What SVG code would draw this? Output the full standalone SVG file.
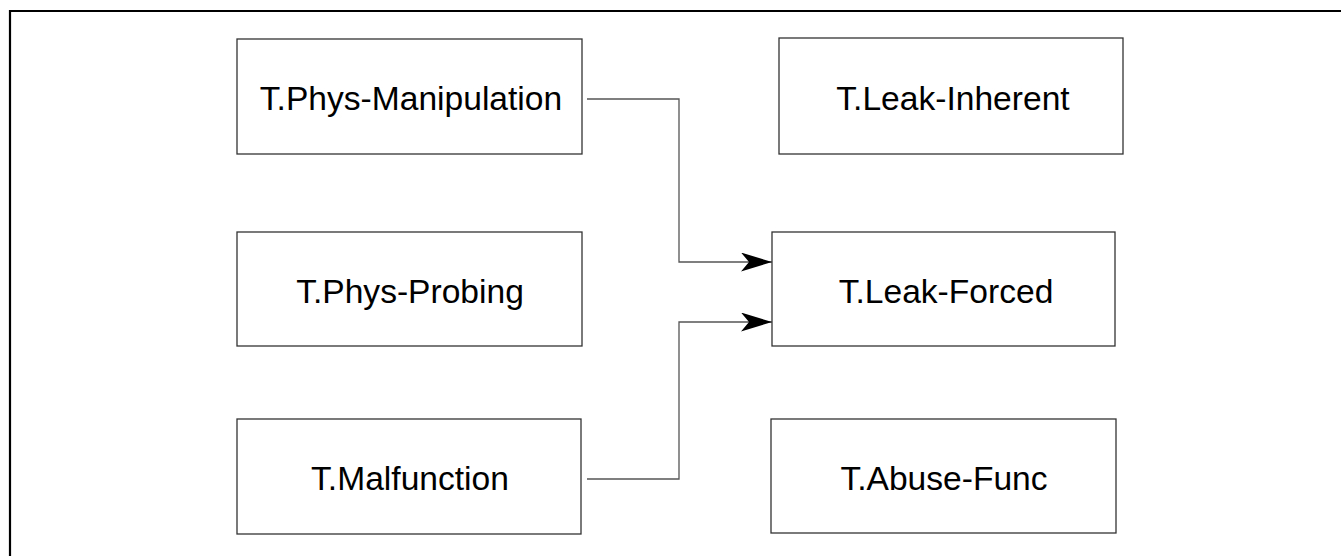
<svg xmlns="http://www.w3.org/2000/svg" width="1341" height="556" viewBox="0 0 1341 556">
<style>
.box{fill:#fff;stroke:#333;stroke-width:1.3}
.lbl{font-family:"Liberation Sans",Arial,sans-serif;font-size:33.6px;fill:#000;text-anchor:middle}
.conn{fill:none;stroke:#555;stroke-width:1.3}
.frame{fill:none;stroke:#000;stroke-width:2.2}
</style>
<defs>
<marker id="arr" markerUnits="userSpaceOnUse" markerWidth="32" markerHeight="20" refX="31" refY="9.5" orient="auto">
<path d="M0,0 L31,9.5 L0,19 L8,9.5 Z" fill="#000"/>
</marker>
</defs>
<rect width="1341" height="556" fill="#fff"/>
<path class="frame" d="M10,556 L10,11 L1341,11"/>
<g id="connectors">
<path class="conn" d="M587,99 L679,99 L679,262 L772,262" marker-end="url(#arr)"/>
<path class="conn" d="M587,479 L679,479 L679,322 L772,322" marker-end="url(#arr)"/>
</g>
<g id="n-phys-manipulation">
<rect class="box" x="237" y="39" width="345" height="115"/>
<text class="lbl" x="411" y="109.5">T.Phys-Manipulation</text>
</g>
<g id="n-leak-inherent">
<rect class="box" x="779" y="38" width="344" height="116"/>
<text class="lbl" x="953" y="109.5">T.Leak-Inherent</text>
</g>
<g id="n-phys-probing">
<rect class="box" x="237" y="232" width="345" height="114"/>
<text class="lbl" x="410" y="302.5">T.Phys-Probing</text>
</g>
<g id="n-leak-forced">
<rect class="box" x="772" y="232" width="343" height="114"/>
<text class="lbl" x="946" y="302.5">T.Leak-Forced</text>
</g>
<g id="n-malfunction">
<rect class="box" x="237" y="419" width="344" height="115"/>
<text class="lbl" x="410" y="489.5">T.Malfunction</text>
</g>
<g id="n-abuse-func">
<rect class="box" x="771" y="419" width="345" height="114"/>
<text class="lbl" x="944" y="489.5">T.Abuse-Func</text>
</g>
</svg>
